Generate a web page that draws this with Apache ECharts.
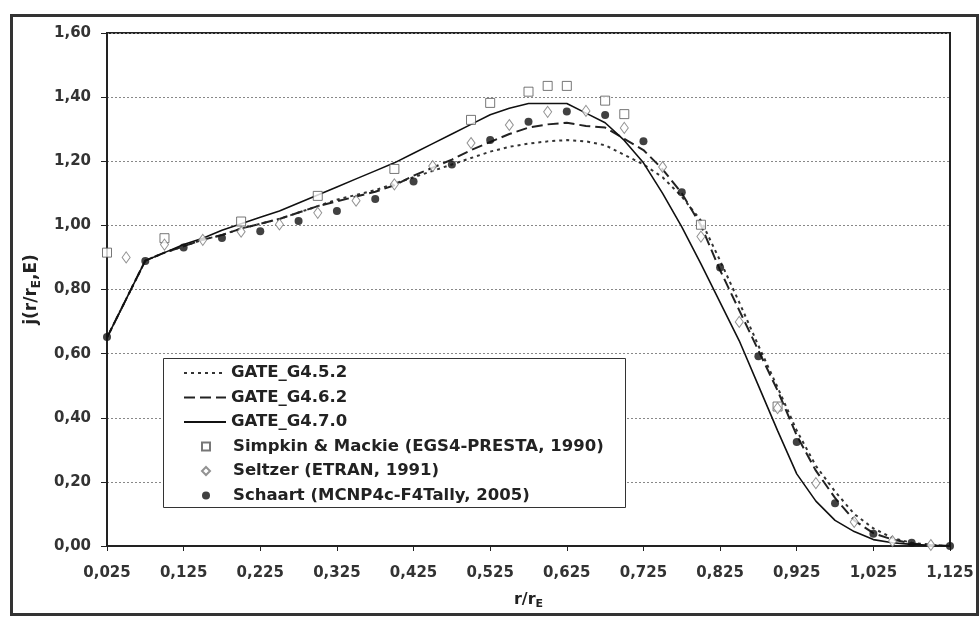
<!DOCTYPE html>
<html>
<head>
<meta charset="utf-8">
<script src="https://cdn.jsdelivr.net/npm/echarts@6/dist/echarts.min.js"></script>
<style>
html,body{margin:0;padding:0;background:#fff;}
#chart{width:980px;height:619px;}
</style>
</head>
<body>
<div id="chart"></div>
<script>
// ---- data ----
const xGate = [0.025,0.05,0.075,0.1,0.125,0.15,0.175,0.2,0.225,0.25,0.275,0.3,0.325,0.35,0.375,0.4,0.425,0.45,0.475,0.5,0.525,0.55,0.575,0.6,0.625,0.65,0.675,0.7,0.725,0.75,0.775,0.8,0.825,0.85,0.875,0.9,0.925,0.95,0.975,1.0,1.025,1.05,1.075,1.1,1.125];
const gate452 = [0.65,0.77,0.89,0.915,0.935,0.955,0.97,0.99,1.005,1.02,1.04,1.06,1.08,1.095,1.11,1.13,1.15,1.17,1.19,1.21,1.23,1.245,1.255,1.262,1.266,1.262,1.25,1.22,1.19,1.15,1.09,1.015,0.89,0.76,0.625,0.495,0.36,0.25,0.17,0.10,0.055,0.025,0.01,0.004,0];
const gate462 = [0.65,0.77,0.89,0.915,0.935,0.955,0.97,0.99,1.005,1.02,1.04,1.06,1.075,1.09,1.105,1.125,1.155,1.18,1.205,1.235,1.26,1.285,1.305,1.315,1.32,1.31,1.305,1.27,1.235,1.175,1.10,1.00,0.86,0.735,0.61,0.485,0.345,0.235,0.15,0.08,0.04,0.02,0.008,0.003,0];
const gate470 = [0.65,0.77,0.89,0.915,0.94,0.96,0.985,1.005,1.025,1.045,1.07,1.095,1.12,1.145,1.17,1.195,1.225,1.255,1.285,1.315,1.345,1.365,1.38,1.38,1.38,1.35,1.32,1.265,1.195,1.10,0.995,0.88,0.76,0.64,0.50,0.36,0.225,0.14,0.08,0.045,0.02,0.01,0.005,0.002,0];

const xSimpkin = [0.025,0.1,0.2,0.3,0.4,0.5,0.525,0.575,0.6,0.625,0.675,0.7,0.8,0.9];
const ySimpkin = [0.915,0.96,1.012,1.092,1.176,1.329,1.382,1.417,1.435,1.435,1.389,1.347,1.002,0.435];

const xSeltzer = [0.05,0.1,0.15,0.2,0.25,0.3,0.35,0.4,0.45,0.5,0.55,0.6,0.65,0.7,0.75,0.8,0.85,0.9,0.95,1.0,1.05,1.1];
const ySeltzer = [0.90,0.94,0.955,0.98,1.003,1.039,1.077,1.128,1.185,1.257,1.313,1.354,1.357,1.304,1.182,0.965,0.699,0.43,0.196,0.075,0.015,0.003];

const xSchaart = [0.025,0.075,0.125,0.175,0.225,0.275,0.325,0.375,0.425,0.475,0.525,0.575,0.625,0.675,0.725,0.775,0.825,0.875,0.925,0.975,1.025,1.075,1.125];
const ySchaart = [0.652,0.889,0.931,0.961,0.982,1.014,1.045,1.082,1.137,1.19,1.266,1.323,1.355,1.344,1.262,1.103,0.869,0.592,0.324,0.133,0.038,0.01,0.0];

const seriesNames = ['GATE_G4.5.2','GATE_G4.6.2','GATE_G4.7.0','Simpkin & Mackie (EGS4-PRESTA, 1990)','Seltzer (ETRAN, 1991)','Schaart (MCNP4c-F4Tally, 2005)'];
const xAxisTitle = 'r/r';
const yAxisTitle = 'j(r/r';

// ---- build ----
const zip = (xs, ys) => xs.map((x, i) => [x, ys[i]]);
const FONT = 'DejaVu Sans';
const chart = echarts.init(document.getElementById('chart'), null, {renderer: 'canvas'});

const legendText = {fontFamily: FONT, fontWeight: 'bold', fontSize: 16.5, color: '#222', lineHeight: 18};

chart.setOption({
  animation: false,
  backgroundColor: '#fff',
  grid: {left: 107, right: 30, top: 33, bottom: 73, show: true, borderColor: '#222', borderWidth: 2, backgroundColor: '#fff'},
  graphic: [
    {type: 'rect', z: 0, silent: true, shape: {x: 11.5, y: 15.5, width: 966, height: 599}, style: {fill: null, stroke: '#333', lineWidth: 3}},
    {type: 'rect', z: 3, silent: true, shape: {x: 163.5, y: 358.5, width: 462, height: 149}, style: {fill: '#fff', stroke: '#333', lineWidth: 1}}
  ],
  legend: [
    {
      z: 5, orient: 'vertical', left: 183, top: 364, padding: 0, itemGap: 6.5,
      itemWidth: 42, itemHeight: 14, selectedMode: false,
      itemStyle: {opacity: 0},
      data: seriesNames.slice(0, 3), textStyle: legendText
    },
    {
      z: 5, orient: 'vertical', left: 201, top: 437.5, padding: 0, itemGap: 6.5,
      itemWidth: 8, itemHeight: 8, selectedMode: false,
      data: seriesNames.slice(3), textStyle: Object.assign({padding: [0, 0, 0, 18]}, legendText)
    }
  ],
  xAxis: {
    type: 'value', min: 0.025, max: 1.125, interval: 0.1,
    name: '{a|' + xAxisTitle + '}{s|E}', nameLocation: 'middle', nameGap: 43,
    nameTextStyle: {rich: {
      a: {fontFamily: FONT, fontWeight: 'bold', fontSize: 16, color: '#222'},
      s: {fontFamily: FONT, fontWeight: 'bold', fontSize: 11, color: '#222', padding: [10, 0, 0, 0]}
    }},
    axisLine: {onZero: false, lineStyle: {color: '#222', width: 2}},
    axisTick: {show: true, inside: false, length: 5, lineStyle: {color: '#222', width: 1}},
    axisLabel: {margin: 20, fontFamily: FONT, fontWeight: 'bold', fontSize: 15, color: '#333',
      formatter: v => v.toFixed(3).replace('.', ',')},
    splitLine: {show: false}
  },
  yAxis: {
    type: 'value', min: 0, max: 1.6, interval: 0.2,
    name: '{a|' + yAxisTitle + '}{s|E}{a|,E)}', nameLocation: 'middle', nameGap: 64, nameRotate: 90,
    nameTextStyle: {rich: {
      a: {fontFamily: FONT, fontWeight: 'bold', fontSize: 17, color: '#222'},
      s: {fontFamily: FONT, fontWeight: 'bold', fontSize: 12, color: '#222', padding: [10, 0, 0, 0]}
    }},
    axisLine: {lineStyle: {color: '#222', width: 2}},
    axisTick: {show: true, inside: false, length: 6, lineStyle: {color: '#222', width: 1}},
    axisLabel: {margin: 16, fontFamily: FONT, fontWeight: 'bold', fontSize: 15, color: '#333',
      formatter: v => v.toFixed(2).replace('.', ',')},
    splitLine: {show: true, lineStyle: {color: '#888', type: [2, 2], width: 1}}
  },
  series: [
    {name: seriesNames[0], type: 'line', data: zip(xGate, gate452), symbol: 'none', z: 2, color: '#333',
      lineStyle: {color: '#333', width: 2, type: [3, 4]}},
    {name: seriesNames[1], type: 'line', data: zip(xGate, gate462), symbol: 'none', z: 2, color: '#222',
      lineStyle: {color: '#222', width: 2, type: [11, 5]}},
    {name: seriesNames[2], type: 'line', data: zip(xGate, gate470), symbol: 'none', z: 2, color: '#111',
      lineStyle: {color: '#111', width: 1.6, type: 'solid'}},
    {name: seriesNames[3], type: 'scatter', data: zip(xSimpkin, ySimpkin), symbol: 'rect', symbolSize: 9, z: 3,
      itemStyle: {color: '#fff', borderColor: '#555', borderWidth: 1}},
    {name: seriesNames[4], type: 'scatter', data: zip(xSeltzer, ySeltzer), symbol: 'diamond', symbolSize: [8, 11], z: 3,
      itemStyle: {color: '#fff', borderColor: '#777', borderWidth: 1}},
    {name: seriesNames[5], type: 'scatter', data: zip(xSchaart, ySchaart), symbol: 'circle', symbolSize: 8, z: 4,
      itemStyle: {color: '#111', borderColor: '#111', borderWidth: 0}}
  ]
});
</script>
</body>
</html>
